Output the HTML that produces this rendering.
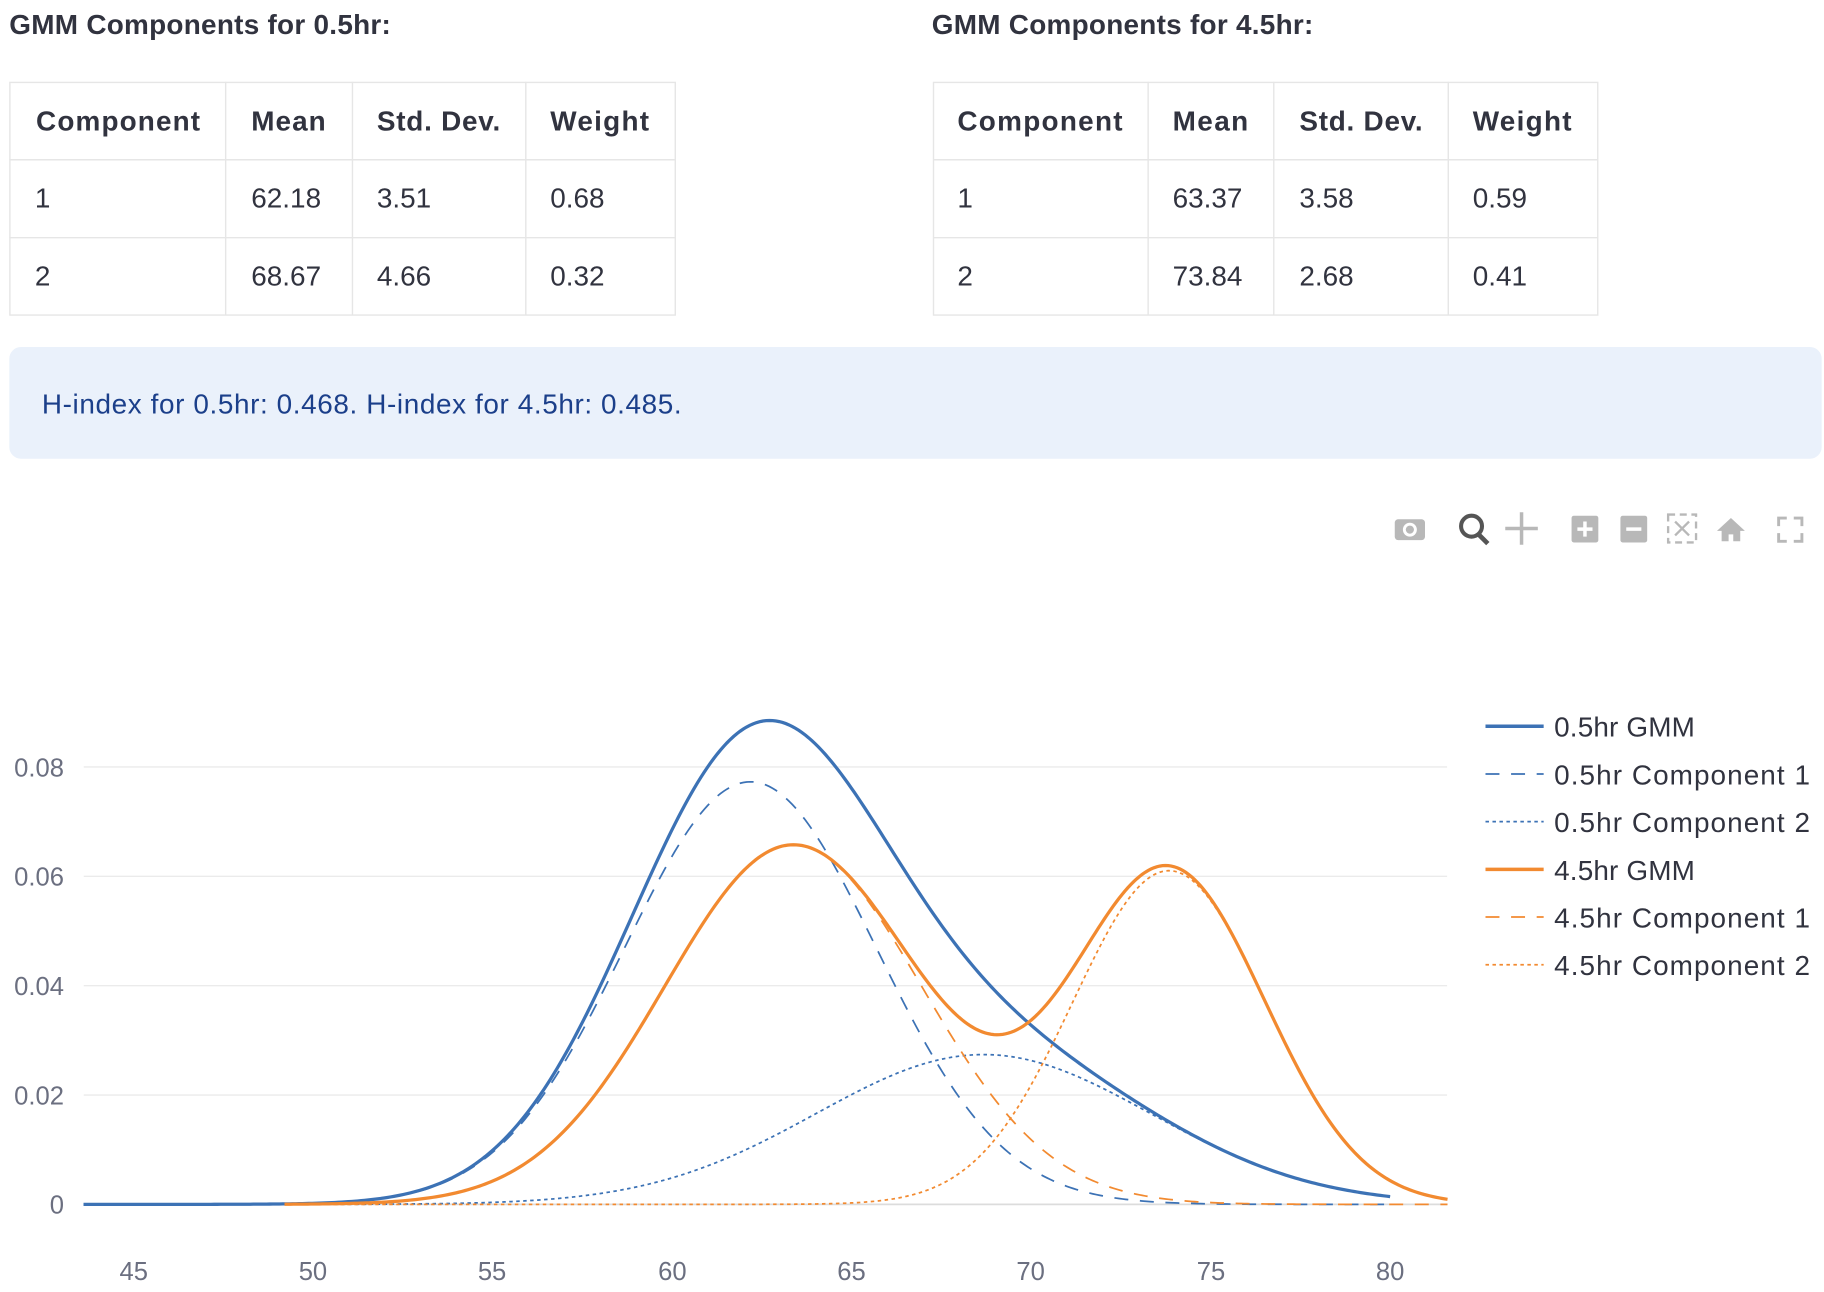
<!DOCTYPE html>
<html><head><meta charset="utf-8"><style>
html,body{margin:0;padding:0;background:#fff;width:1824px;height:1292px;overflow:hidden}
svg{display:block}
text{font-family:"Liberation Sans",sans-serif}
</style></head><body>
<svg id="s" width="1824" height="1292" viewBox="0 0 1568 1110" xmlns="http://www.w3.org/2000/svg">
<g font-size="24" fill="#31333f">
<text x="8" y="29" font-weight="bold" textLength="328">GMM Components for 0.5hr:</text>
<text x="801" y="29" font-weight="bold" textLength="328">GMM Components for 4.5hr:</text>
</g>
<g stroke="#e6e6e6" stroke-width="1.2" fill="none">
<rect x="8.5" y="70.5" width="572" height="200"/>
<line x1="8" y1="137" x2="580" y2="137"/><line x1="8" y1="204" x2="580" y2="204"/>
<line x1="194" y1="70" x2="194" y2="270"/><line x1="303" y1="70" x2="303" y2="270"/><line x1="452" y1="70" x2="452" y2="270"/>
<rect x="802.5" y="70.5" width="571" height="200"/>
<line x1="802" y1="137" x2="1373" y2="137"/><line x1="802" y1="204" x2="1373" y2="204"/>
<line x1="987" y1="70" x2="987" y2="270"/><line x1="1095" y1="70" x2="1095" y2="270"/><line x1="1245" y1="70" x2="1245" y2="270"/>
</g>
<g font-size="24" fill="#31333f">
<g font-weight="bold">
<text x="31" y="112" textLength="141">Component</text><text x="216" y="112" textLength="64">Mean</text><text x="324" y="112" textLength="106">Std. Dev.</text><text x="473" y="112" textLength="85">Weight</text>
<text x="823" y="112" textLength="142">Component</text><text x="1008" y="112" textLength="65">Mean</text><text x="1117" y="112" textLength="106">Std. Dev.</text><text x="1266" y="112" textLength="85">Weight</text>
</g>
<text x="30" y="178">1</text><text x="216" y="178">62.18</text><text x="324" y="178">3.51</text><text x="473" y="178">0.68</text>
<text x="30" y="245">2</text><text x="216" y="245">68.67</text><text x="324" y="245">4.66</text><text x="473" y="245">0.32</text>
<text x="823" y="178">1</text><text x="1008" y="178">63.37</text><text x="1117" y="178">3.58</text><text x="1266" y="178">0.59</text>
<text x="823" y="245">2</text><text x="1008" y="245">73.84</text><text x="1117" y="245">2.68</text><text x="1266" y="245">0.41</text>
</g>
<rect x="8" y="298" width="1558" height="96" rx="10" fill="#eaf1fb"/>
<text x="36" y="355" font-size="24" fill="#1b3f8a" textLength="550">H-index for 0.5hr: 0.468. H-index for 4.5hr: 0.485.</text>
<!-- toolbar -->
<g fill="#b8b8b8">
<rect x="1199" y="446" width="26" height="18" rx="3"/><circle cx="1212" cy="455" r="6" fill="#fff"/><circle cx="1212" cy="455" r="3.5"/>
<circle cx="1265" cy="452" r="9" fill="none" stroke="#555" stroke-width="3.5"/><line x1="1271" y1="459" x2="1279" y2="467" stroke="#555" stroke-width="4"/>
<path d="M1308 440v28M1294 454h28" stroke="#b8b8b8" stroke-width="3"/>
<rect x="1351" y="443" width="23" height="23" rx="2"/><path d="M1362.5 448v13M1356 454.5h13" stroke="#fff" stroke-width="3"/>
<rect x="1393" y="443" width="23" height="23" rx="2"/><path d="M1398 454.5h13" stroke="#fff" stroke-width="3"/>
<rect x="1434" y="442" width="24" height="24" fill="none" stroke="#b8b8b8" stroke-width="2" stroke-dasharray="6 4"/><path d="M1440 448l12 12M1452 448l-12 12" stroke="#b8b8b8" stroke-width="2"/>
<path d="M1476 456l12-11 12 11h-4v9h-6v-6h-4v6h-6v-9z"/>
<path d="M1529 452v-7h7M1542 445h7v7M1549 458v7h-7M1536 465h-7v-7" fill="none" stroke="#b8b8b8" stroke-width="2.5"/>
</g>
<!-- grid -->
<g stroke="#ebebeb" stroke-width="1.2">
<line x1="72" y1="659" x2="1244" y2="659"/><line x1="72" y1="753" x2="1244" y2="753"/><line x1="72" y1="847" x2="1244" y2="847"/><line x1="72" y1="941" x2="1244" y2="941"/>
</g>
<line x1="72" y1="1035" x2="1244" y2="1035" stroke="#dcdcdc" stroke-width="1.5"/>
<g font-size="22" fill="#6b6f80" text-anchor="end">
<text x="55" y="667">0.08</text><text x="55" y="761">0.06</text><text x="55" y="855">0.04</text><text x="55" y="949">0.02</text><text x="55" y="1043">0</text>
</g>
<g font-size="22" fill="#6b6f80" text-anchor="middle">
<text x="115" y="1100">45</text><text x="269" y="1100">50</text><text x="423" y="1100">55</text><text x="578" y="1100">60</text><text x="732" y="1100">65</text><text x="886" y="1100">70</text><text x="1041" y="1100">75</text><text x="1195" y="1100">80</text>
</g>
<g id="curves" fill="none"></g>
<!-- legend -->
<g stroke-width="2.5">
<line x1="1277" y1="624" x2="1327" y2="624" stroke="#3c72b5" stroke-width="3"/>
<line x1="1277" y1="665" x2="1327" y2="665" stroke="#3c72b5" stroke-width="1.5" stroke-dasharray="12 10"/>
<line x1="1277" y1="706" x2="1327" y2="706" stroke="#3c72b5" stroke-width="1.5" stroke-dasharray="3 3"/>
<line x1="1277" y1="747" x2="1327" y2="747" stroke="#f28a30" stroke-width="3"/>
<line x1="1277" y1="788" x2="1327" y2="788" stroke="#f28a30" stroke-width="1.5" stroke-dasharray="12 10"/>
<line x1="1277" y1="829" x2="1327" y2="829" stroke="#f28a30" stroke-width="1.5" stroke-dasharray="3 3"/>
</g>
<g font-size="24" fill="#31333f">
<text x="1336" y="633" textLength="121">0.5hr GMM</text>
<text x="1336" y="674" textLength="220">0.5hr Component 1</text>
<text x="1336" y="715" textLength="220">0.5hr Component 2</text>
<text x="1336" y="756" textLength="121">4.5hr GMM</text>
<text x="1336" y="797" textLength="220">4.5hr Component 1</text>
<text x="1336" y="838" textLength="220">4.5hr Component 2</text>
</g>
</svg>
<script>
(function(){
function g(x,m,s,w){return w*Math.exp(-0.5*Math.pow((x-m)/s,2))/(s*Math.sqrt(2*Math.PI));}
function X(v){return 115+(v-45)*30.857;}
function Y(v){return 1035-v*4700;}
function path(f,a,b){var d="";for(var i=0;i<=400;i++){var x=a+(b-a)*i/400;d+=(i?"L":"M")+X(x).toFixed(2)+" "+Y(f(x)).toFixed(2);}return d;}
var B="#3c72b5",O="#f28a30";
var A1=function(x){return g(x,62.18,3.51,0.68)},A2=function(x){return g(x,68.67,4.66,0.32)};
var C1=function(x){return g(x,63.37,3.58,0.59)},C2=function(x){return g(x,73.84,2.68,0.41)};
var L=[
[function(x){return A2(x)},43.6,80,B,1.5,"3 3"],
[function(x){return A1(x)},43.6,80,B,1.5,"12 10"],
[function(x){return A1(x)+A2(x)},43.6,80,B,2.8,""],
[function(x){return C2(x)},49.2,81.6,O,1.5,"3 3"],
[function(x){return C1(x)},49.2,81.6,O,1.5,"12 10"],
[function(x){return C1(x)+C2(x)},49.2,81.6,O,2.8,""]
];
var G=document.getElementById("curves"),ns="http://www.w3.org/2000/svg";
L.forEach(function(l){var p=document.createElementNS(ns,"path");p.setAttribute("d",path(l[0],l[1],l[2]));p.setAttribute("stroke",l[3]);p.setAttribute("stroke-width",l[4]);if(l[5])p.setAttribute("stroke-dasharray",l[5]);G.appendChild(p);});
})();
</script>
</body></html>
